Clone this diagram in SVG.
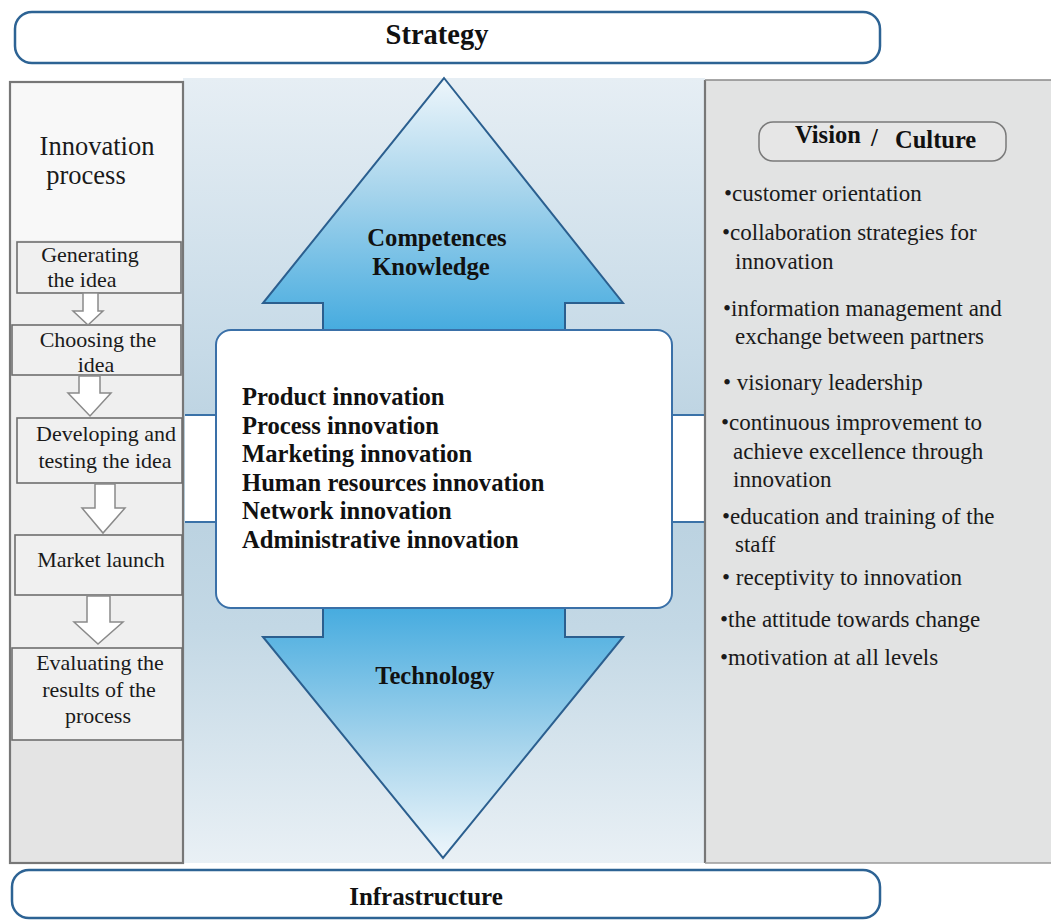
<svg xmlns="http://www.w3.org/2000/svg" width="1051" height="920" viewBox="0 0 1051 920">
  <defs>
    <linearGradient id="bgMid" x1="0" y1="0" x2="0" y2="1">
      <stop offset="0" stop-color="#e6eef4"/>
      <stop offset="0.35" stop-color="#c6dae7"/>
      <stop offset="0.5" stop-color="#b8d0df"/>
      <stop offset="0.7" stop-color="#c3d8e5"/>
      <stop offset="1" stop-color="#e9f0f5"/>
    </linearGradient>
    <linearGradient id="arrowUp" x1="0" y1="0" x2="0" y2="1">
      <stop offset="0" stop-color="#eef6fb"/>
      <stop offset="0.45" stop-color="#a6d4ec"/>
      <stop offset="1" stop-color="#45abdf"/>
    </linearGradient>
    <linearGradient id="arrowDown" x1="0" y1="0" x2="0" y2="1">
      <stop offset="0" stop-color="#45abdf"/>
      <stop offset="0.55" stop-color="#a6d4ec"/>
      <stop offset="1" stop-color="#eef6fb"/>
    </linearGradient>
    <style>
      .bar { fill: #ffffff; stroke: #2d6394; stroke-width: 2.5; }
      .title { font-family: "Liberation Serif", "DejaVu Serif", serif; font-weight: bold; font-size: 25px; fill: #111; }
      .big { font-size: 28.5px; }
      .vc { font-size: 24.5px; }
      .bold { font-family: "Liberation Serif", "DejaVu Serif", serif; font-weight: bold; font-size: 24.6px; fill: #111; }
      .step { font-family: "Liberation Serif", "DejaVu Serif", serif; font-size: 22px; fill: #1a1a1a; }
      .head { font-family: "Liberation Serif", "DejaVu Serif", serif; font-size: 26.5px; fill: #1a1a1a; }
      .bul { font-family: "Liberation Serif", "DejaVu Serif", serif; font-size: 23px; fill: #1a1a1a; }
      .stepBox { fill: #f0f0f0; stroke: #6e6e6e; stroke-width: 1.6; }
      .hollow { fill: #ffffff; stroke: #8a8a8a; stroke-width: 1.5; }
      .bigArrow { stroke: #2b5f8f; stroke-width: 2; }
    </style>
  </defs>

  <rect x="0" y="0" width="1051" height="920" fill="#ffffff"/>

  <!-- central field behind the arrows -->
  <rect x="183" y="78" width="522" height="785" fill="url(#bgMid)"/>
  <!-- horizontal white band crossing the field -->
  <rect x="185" y="415" width="520" height="107" fill="#ffffff"/>
  <line x1="185" y1="415" x2="705" y2="415" stroke="#3a72a8" stroke-width="2"/>
  <line x1="185" y1="522" x2="705" y2="522" stroke="#3a72a8" stroke-width="2"/>

  <!-- Strategy bar -->
  <g id="strategy">
    <rect class="bar" x="15" y="12" width="865" height="51" rx="17"/>
    <text class="title big" x="437" y="44" text-anchor="middle">Strategy</text>
  </g>

  <!-- Infrastructure bar -->
  <g id="infrastructure">
    <rect class="bar" x="12" y="870" width="868" height="48" rx="17"/>
    <text class="title" x="426" y="905" text-anchor="middle">Infrastructure</text>
  </g>

  <!-- Innovation process column -->
  <g id="innovation-process">
    <rect x="10" y="82" width="173" height="781" fill="#efefef"/>
    <rect x="10" y="82" width="173" height="158" fill="#f8f8f8"/>
    <rect x="10" y="740" width="173" height="123" fill="#e4e4e4"/>
    <rect x="10" y="82" width="173" height="781" fill="none" stroke="#777" stroke-width="2.2"/>
    <text class="head" text-anchor="middle"><tspan x="97" y="155">Innovation</tspan><tspan x="86" y="184">process</tspan></text>
  </g>

  <g id="step-generating">
    <rect class="stepBox" x="17" y="242" width="164" height="51"/>
    <text class="step" text-anchor="middle"><tspan x="90" y="262">Generating</tspan><tspan x="82" y="287">the idea</tspan></text>
  </g>
  <g id="step-choosing">
    <rect class="stepBox" x="12" y="325" width="169" height="50"/>
    <text class="step" text-anchor="middle"><tspan x="98" y="347">Choosing the</tspan><tspan x="96" y="372">idea</tspan></text>
  </g>
  <g id="step-developing">
    <rect class="stepBox" x="17" y="418" width="165" height="65"/>
    <text class="step" text-anchor="middle"><tspan x="106" y="441">Developing and</tspan><tspan x="105" y="468">testing the idea</tspan></text>
  </g>
  <g id="step-market">
    <rect class="stepBox" x="15" y="535" width="167" height="60"/>
    <text class="step" x="101" y="567" text-anchor="middle">Market launch</text>
  </g>
  <g id="step-evaluating">
    <rect class="stepBox" x="12" y="648" width="170" height="92"/>
    <text class="step" text-anchor="middle"><tspan x="100" y="670">Evaluating the</tspan><tspan x="99" y="697">results of the</tspan><tspan x="98" y="723">process</tspan></text>
  </g>

  <!-- step connectors: hollow block arrows -->
  <g id="connectors">
    <polygon class="hollow" points="83,293 98,293 98,311 103,311 88,325 73,311 83,311"/>
    <polygon class="hollow" points="79,376 100,376 100,393 111,393 90,416 68,393 79,393"/>
    <polygon class="hollow" points="95,484 115,484 115,508 125,508 103,533 82,508 95,508"/>
    <polygon class="hollow" points="87,596 110,596 110,622 123,622 98,644 74,622 87,622"/>
  </g>

  <!-- Competences / Knowledge arrow -->
  <g id="arrow-competences">
    <polygon class="bigArrow" fill="url(#arrowUp)" points="444,78 623,303 565,303 565,332 323,332 323,303 263,303"/>
    <text class="bold" text-anchor="middle"><tspan x="437" y="246">Competences</tspan><tspan x="431" y="275">Knowledge</tspan></text>
  </g>

  <!-- Technology arrow -->
  <g id="arrow-technology">
    <polygon class="bigArrow" fill="url(#arrowDown)" points="323,606 565,606 565,637 623,637 443,858 263,637 323,637"/>
    <text class="bold" x="435" y="684" text-anchor="middle">Technology</text>
  </g>

  <!-- Innovation types -->
  <g id="innovation-types">
    <rect x="216" y="330" width="456" height="278" rx="15" fill="#ffffff" stroke="#3a70a8" stroke-width="2"/>
    <text class="bold">
      <tspan x="242" y="405">Product innovation</tspan>
      <tspan x="242" y="434">Process innovation</tspan>
      <tspan x="242" y="462">Marketing innovation</tspan>
      <tspan x="242" y="491">Human resources innovation</tspan>
      <tspan x="242" y="519">Network innovation</tspan>
      <tspan x="242" y="548">Administrative innovation</tspan>
    </text>
  </g>

  <!-- Vision / Culture panel -->
  <g id="vision-culture">
    <rect x="705" y="80" width="350" height="783" fill="#e2e3e3"/>
    <line x1="705" y1="80" x2="705" y2="863" stroke="#777" stroke-width="2.2"/>
    <line x1="705" y1="80" x2="1051" y2="80" stroke="#8a8a8a" stroke-width="1.5"/>
    <line x1="705" y1="863" x2="1051" y2="863" stroke="#9a9a9a" stroke-width="1.5"/>
    <rect x="759" y="122" width="247" height="39" rx="14" fill="#e6e6e6" stroke="#7a7a7a" stroke-width="1.5"/>
    <text class="title vc" x="795" y="143">Vision</text>
    <text class="title vc" x="871" y="146">/</text>
    <text class="title vc" x="895" y="148">Culture</text>
    <g class="bul">
      <text x="724" y="201">•customer orientation</text>
      <text x="722" y="240">•collaboration strategies for</text>
      <text x="735" y="269">innovation</text>
      <text x="723" y="316">•information management and</text>
      <text x="735" y="344">exchange between partners</text>
      <text x="723" y="390">• visionary leadership</text>
      <text x="721" y="430">•continuous improvement to</text>
      <text x="733" y="459">achieve excellence through</text>
      <text x="733" y="487">innovation</text>
      <text x="722" y="524">•education and training of the</text>
      <text x="735" y="552">staff</text>
      <text x="722" y="585">• receptivity to innovation</text>
      <text x="720" y="627">•the attitude towards change</text>
      <text x="720" y="665">•motivation at all levels</text>
    </g>
  </g>
</svg>
